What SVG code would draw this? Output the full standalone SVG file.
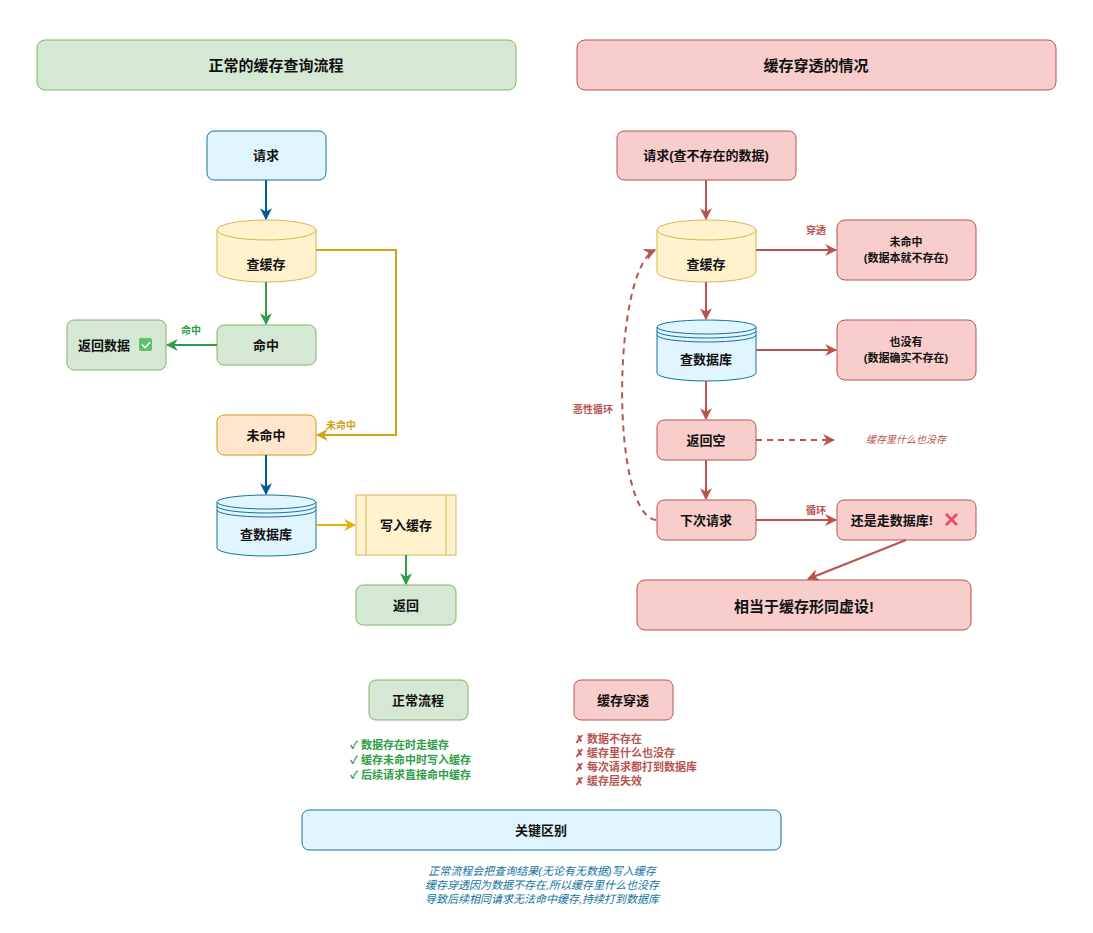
<svg xmlns="http://www.w3.org/2000/svg" width="1093" height="933" viewBox="0 0 1093 933">
<style>
text{font-family:"Liberation Sans","Noto Sans CJK SC",sans-serif;font-weight:bold;text-anchor:middle;dominant-baseline:central;fill:#111}
.h{font-size:15px}.n{font-size:13px}.s{font-size:11px}
.g{fill:#d5e8d4;stroke:#82b366}.r{fill:#f8cecc;stroke:#b85450}.y{fill:#fff2cc;stroke:#d6b656}.b{fill:#e1f5fe;stroke:#10739e}.o{fill:#ffe6cc;stroke:#d79b00}
.c line,.c path,.c polyline{fill:none;stroke-width:2}
</style>
<defs>
<marker id="aB" viewBox="0 0 10 10" refX="9" refY="5" markerWidth="6" markerHeight="6" orient="auto"><path d="M0,0L10,5L0,10L3,5z" fill="#005b96"/></marker>
<marker id="aG" viewBox="0 0 10 10" refX="9" refY="5" markerWidth="6" markerHeight="6" orient="auto"><path d="M0,0L10,5L0,10L3,5z" fill="#2e9e44"/></marker>
<marker id="aY" viewBox="0 0 10 10" refX="9" refY="5" markerWidth="6" markerHeight="6" orient="auto"><path d="M0,0L10,5L0,10L3,5z" fill="#e6b000"/></marker>
<marker id="aD" viewBox="0 0 10 10" refX="9" refY="5" markerWidth="6" markerHeight="6" orient="auto"><path d="M0,0L10,5L0,10L3,5z" fill="#d4a017"/></marker>
<marker id="aR" viewBox="0 0 10 10" refX="9" refY="5" markerWidth="6" markerHeight="6" orient="auto"><path d="M0,0L10,5L0,10L3,5z" fill="#b85450"/></marker>
</defs>
<rect width="1093" height="933" fill="#fff"/>
<g id="hdrL"><rect x="37" y="40" width="479" height="50" rx="8" class="g"/><text x="276" y="65" class="h">正常的缓存查询流程</text></g>
<g id="hdrR"><rect x="577" y="40" width="479" height="50" rx="8" class="r"/><text x="816" y="65" class="h">缓存穿透的情况</text></g>

<g id="req"><rect x="207" y="131" width="119" height="49" rx="7" class="b"/><text x="266" y="155" class="n">请求</text></g>
<g id="cache"><path d="M217,230 v42 a49.5,10 0 0 0 99,0 v-42" class="y"/><ellipse cx="266.5" cy="230" rx="49.5" ry="10" class="y"/><text x="266" y="264" class="n">查缓存</text></g>
<g id="hit"><rect x="217" y="325" width="99" height="40" rx="7" class="g"/><text x="266" y="345" class="n">命中</text></g>
<g id="ret"><rect x="67" y="320" width="99" height="50" rx="7" class="g"/><text x="104" y="345" class="n">返回数据</text><rect x="139" y="338" width="13" height="13" rx="2" fill="#5cc26f"/><path d="M142,344.5l3,3l5,-5" stroke="#fff" stroke-width="1.6" fill="none"/></g>
<g id="miss"><rect x="217" y="415" width="99" height="40" rx="7" class="o"/><text x="266" y="435" class="n">未命中</text></g>
<g id="db"><path d="M217,502 v46 a49.5,8 0 0 0 99,0 v-46" class="b"/><ellipse cx="266.5" cy="502" rx="49.5" ry="7" class="b"/><path d="M217,506 a49.5,7 0 0 0 99,0 M217,510 a49.5,7 0 0 0 99,0" fill="none" stroke="#10739e"/><text x="266" y="534" class="n">查数据库</text></g>
<g id="write"><rect x="356" y="495" width="100" height="60" class="y"/><line x1="366" y1="495" x2="366" y2="555" stroke="#d6b656"/><line x1="446" y1="495" x2="446" y2="555" stroke="#d6b656"/><text x="406" y="525" class="n">写入缓存</text></g>
<g id="back"><rect x="356" y="585" width="100" height="40" rx="7" class="g"/><text x="406" y="605" class="n">返回</text></g>

<g id="rreq"><rect x="617" y="131" width="179" height="49" rx="7" class="r"/><text x="706" y="155" class="n">请求(查不存在的数据)</text></g>
<g id="rcache"><path d="M657,230 v42 a49.5,10 0 0 0 99,0 v-42" class="y"/><ellipse cx="706.5" cy="230" rx="49.5" ry="10" class="y"/><text x="706" y="264" class="n">查缓存</text></g>
<g id="rmiss"><rect x="837" y="220" width="139" height="60" rx="8" class="r"/><text x="906" y="242" class="s">未命中</text><text x="906" y="258" class="s">(数据本就不存在)</text></g>
<g id="rdb"><path d="M657,327 v46 a49.5,8 0 0 0 99,0 v-46" class="b"/><ellipse cx="706.5" cy="327" rx="49.5" ry="7" class="b"/><path d="M657,331 a49.5,7 0 0 0 99,0 M657,335 a49.5,7 0 0 0 99,0" fill="none" stroke="#10739e"/><text x="706" y="359" class="n">查数据库</text></g>
<g id="rnone"><rect x="837" y="320" width="139" height="60" rx="8" class="r"/><text x="906" y="342" class="s">也没有</text><text x="906" y="358" class="s">(数据确实不存在)</text></g>
<g id="rempty"><rect x="657" y="420" width="99" height="40" rx="7" class="r"/><text x="706" y="440" class="n">返回空</text></g>
<g id="rnote"><text x="906" y="439" class="s" style="font-weight:normal;font-style:italic;fill:#b85450;font-size:10px">缓存里什么也没存</text></g>
<g id="rnext"><rect x="657" y="500" width="99" height="40" rx="7" class="r"/><text x="706" y="520" class="n">下次请求</text></g>
<g id="rdb2"><rect x="837" y="500" width="139" height="40" rx="7" class="r"/><text x="892" y="520" class="n">还是走数据库!</text><path d="M946,514l11,11M957,514l-11,11" stroke="#e8506e" stroke-width="3"/></g>
<g id="rres"><rect x="637" y="580" width="334" height="50" rx="8" class="r"/><text x="804" y="606" class="h">相当于缓存形同虚设!</text></g>

<g id="lg1"><rect x="369" y="680" width="99" height="40" rx="7" class="g"/><text x="418" y="700" class="n">正常流程</text></g>
<g id="lg2"><rect x="574" y="680" width="99" height="40" rx="7" class="r"/><text x="623" y="700" class="n">缓存穿透</text></g>
<g id="lgt1" style="font-size:11px">
<text x="350" y="745" class="s" style="text-anchor:start;fill:#2e9e44">✓ 数据存在时走缓存</text>
<text x="350" y="760" class="s" style="text-anchor:start;fill:#2e9e44">✓ 缓存未命中时写入缓存</text>
<text x="350" y="775" class="s" style="text-anchor:start;fill:#2e9e44">✓ 后续请求直接命中缓存</text>
</g>
<g id="lgt2">
<text x="575" y="739" class="s" style="text-anchor:start;fill:#b85450">✗ 数据不存在</text>
<text x="575" y="753" class="s" style="text-anchor:start;fill:#b85450">✗ 缓存里什么也没存</text>
<text x="575" y="767" class="s" style="text-anchor:start;fill:#b85450">✗ 每次请求都打到数据库</text>
<text x="575" y="781" class="s" style="text-anchor:start;fill:#b85450">✗ 缓存层失效</text>
</g>
<g id="key"><rect x="302" y="810" width="479" height="40" rx="7" class="b"/><text x="541" y="830" class="n">关键区别</text></g>
<g id="keyt" style="font-weight:normal">
<text x="542" y="871" class="s" style="font-weight:normal;font-style:italic;fill:#10739e">正常流程会把查询结果(无论有无数据)写入缓存</text>
<text x="542" y="885" class="s" style="font-weight:normal;font-style:italic;fill:#10739e">缓存穿透因为数据不存在,所以缓存里什么也没存</text>
<text x="542" y="899" class="s" style="font-weight:normal;font-style:italic;fill:#10739e">导致后续相同请求无法命中缓存,持续打到数据库</text>
</g>

<g id="connectors" class="c">
<line x1="266" y1="180" x2="266" y2="219" stroke="#005b96" marker-end="url(#aB)"/>
<line x1="266" y1="282" x2="266" y2="324" stroke="#2e9e44" marker-end="url(#aG)"/>
<line x1="217" y1="345" x2="167" y2="345" stroke="#2e9e44" marker-end="url(#aG)"/>
<polyline points="316,250 396,250 396,435 317,435" stroke="#d4a017" marker-end="url(#aD)"/>
<line x1="266" y1="455" x2="266" y2="494" stroke="#005b96" marker-end="url(#aB)"/>
<line x1="316" y1="525" x2="355" y2="525" stroke="#e6b000" marker-end="url(#aY)"/>
<line x1="406" y1="555" x2="406" y2="584" stroke="#2e9e44" marker-end="url(#aG)"/>
<line x1="706" y1="180" x2="706" y2="219" stroke="#b85450" marker-end="url(#aR)"/>
<line x1="756" y1="250" x2="836" y2="250" stroke="#b85450" marker-end="url(#aR)"/>
<line x1="706" y1="282" x2="706" y2="319" stroke="#b85450" marker-end="url(#aR)"/>
<line x1="756" y1="350" x2="836" y2="350" stroke="#b85450" marker-end="url(#aR)"/>
<line x1="706" y1="381" x2="706" y2="419" stroke="#b85450" marker-end="url(#aR)"/>
<line x1="756" y1="440" x2="834" y2="440" stroke="#b85450" stroke-dasharray="6,5" marker-end="url(#aR)"/>
<line x1="706" y1="460" x2="706" y2="499" stroke="#b85450" marker-end="url(#aR)"/>
<line x1="756" y1="520" x2="836" y2="520" stroke="#b85450" marker-end="url(#aR)"/>
<line x1="906" y1="540" x2="808" y2="579" stroke="#b85450" marker-end="url(#aR)"/>
<path d="M656,520 C610,515 612,270 655,250" stroke="#b85450" stroke-dasharray="6,5" marker-end="url(#aR)"/>
</g>
<g id="clabels">
<text x="191" y="330" class="s" style="fill:#2e9e44;font-size:10px">命中</text>
<text x="341" y="425" class="s" style="fill:#d4a017;font-size:10px">未命中</text>
<text x="816" y="230" class="s" style="fill:#b85450;font-size:10px">穿透</text>
<text x="816" y="510" class="s" style="fill:#b85450;font-size:10px">循环</text>
<text x="593" y="409" class="s" style="fill:#b85450;font-size:10px">恶性循环</text>
</g>
</svg>
